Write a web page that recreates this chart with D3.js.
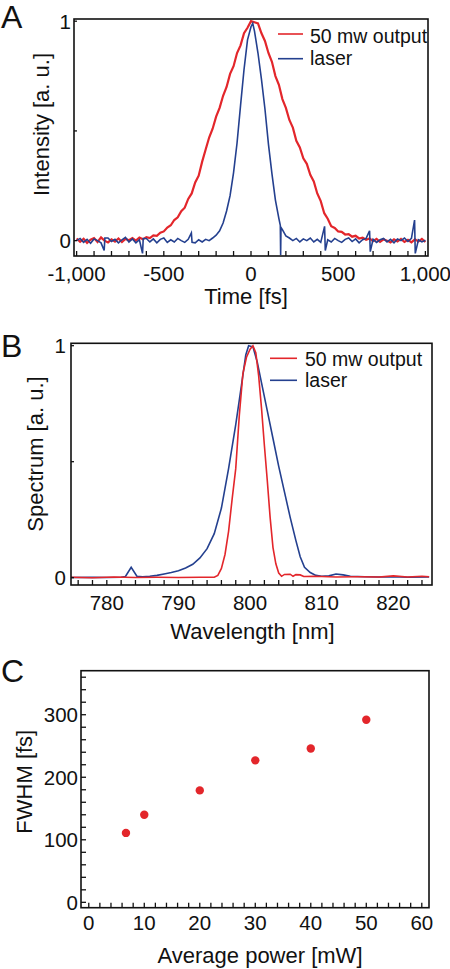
<!DOCTYPE html>
<html><head><meta charset="utf-8">
<script src="https://cdn.jsdelivr.net/npm/d3@7"></script>
<style>
html,body{margin:0;padding:0;background:#fff;}
svg{display:block;font-family:"Liberation Sans",Arial,Helvetica,sans-serif;}
</style></head>
<body>
<script>
// ---------- Panel A: autocorrelation vs time ----------
const timeRed = [[-1000,0.01],[-980,-0.005],[-960,0.008],[-940,-0.01],[-920,0.004],[-900,0.012],[-880,-0.006],[-860,0.015],[-840,0.0],[-820,-0.008],[-800,0.006],[-780,-0.004],[-760,0.01],[-740,-0.006],[-720,0.008],[-700,0.002],[-680,0.012],[-660,0.0],[-640,0.014],[-620,0.006],[-600,0.016],[-580,0.012],[-560,0.024],[-540,0.022],[-520,0.036],[-500,0.042],[-480,0.06],[-460,0.07],[-440,0.094],[-420,0.106],[-400,0.134],[-380,0.15],[-360,0.19],[-340,0.215],[-320,0.265],[-300,0.296],[-280,0.36],[-260,0.415],[-240,0.47],[-220,0.51],[-200,0.565],[-180,0.605],[-160,0.66],[-140,0.70],[-120,0.76],[-100,0.795],[-80,0.855],[-60,0.89],[-40,0.945],[-20,0.97],[0,1.0],[20,0.995],[40,0.99],[60,0.945],[80,0.91],[100,0.855],[120,0.815],[140,0.75],[160,0.71],[180,0.645],[200,0.605],[220,0.55],[240,0.515],[260,0.455],[280,0.425],[300,0.375],[320,0.35],[340,0.30],[360,0.27],[380,0.215],[400,0.18],[420,0.125],[440,0.1],[460,0.066],[480,0.058],[500,0.042],[520,0.04],[540,0.028],[560,0.03],[580,0.018],[600,0.022],[620,0.01],[640,0.014],[660,0.004],[680,0.01],[700,-0.002],[720,0.008],[740,-0.006],[760,0.006],[780,0.0],[800,-0.008],[820,0.006],[840,-0.004],[860,0.008],[880,-0.006],[900,0.004],[920,-0.008],[940,0.006],[960,-0.004],[980,0.008],[1000,-0.006]];
const timeBlue = [[-1000,0.0],[-980,0.01],[-960,-0.008],[-940,0.006],[-920,-0.012],[-900,0.008],[-880,0.0],[-860,-0.01],[-842,-0.045],[-838,0.012],[-820,0.012],[-800,-0.004],[-780,0.006],[-760,-0.01],[-740,0.004],[-720,0.015],[-700,-0.006],[-680,0.008],[-660,-0.01],[-640,0.004],[-622,-0.058],[-618,0.01],[-600,0.01],[-580,-0.006],[-560,0.008],[-540,-0.01],[-520,0.006],[-500,0.012],[-480,-0.008],[-460,0.004],[-440,-0.006],[-420,0.01],[-400,0.0],[-380,-0.008],[-360,0.006],[-342,0.035],[-338,-0.008],[-320,-0.01],[-300,0.004],[-280,-0.006],[-260,0.006],[-240,0.0],[-220,0.012],[-200,0.025],[-180,0.045],[-160,0.08],[-140,0.135],[-120,0.205],[-100,0.31],[-80,0.445],[-60,0.615],[-40,0.78],[-20,0.915],[0,0.975],[10,0.99],[20,0.955],[40,0.855],[60,0.735],[80,0.6],[100,0.44],[120,0.305],[140,0.185],[160,0.1],[168,0.07],[170,-0.065],[172,0.06],[180,0.05],[200,0.022],[220,0.012],[240,0.0],[260,0.01],[280,-0.006],[300,0.008],[320,0.0],[340,0.012],[360,-0.006],[380,0.006],[400,-0.008],[422,0.065],[426,-0.045],[440,0.004],[460,-0.006],[480,0.01],[500,0.0],[520,-0.008],[540,0.006],[560,0.012],[580,-0.004],[600,0.008],[620,-0.01],[640,0.004],[660,0.01],[680,0.045],[684,-0.05],[700,0.006],[720,-0.008],[740,0.004],[760,0.01],[780,-0.006],[800,0.006],[820,-0.01],[840,0.008],[860,0.0],[880,0.012],[900,-0.004],[920,0.01],[938,0.094],[942,-0.058],[960,0.004],[980,-0.006],[1000,0.002]];
const timeTickLabels = [-1000,-500,0,500,1000];

// ---------- Panel B: spectra ----------
const specRed = [[775,0.002],[778,0.0],[781,0.003],[784,0.001],[787,0.002],[790,0.001],[793,0.002],[795,0.002],[795.5,0.01],[796,0.04],[796.5,0.1],[797,0.2],[797.5,0.34],[798,0.47],[798.5,0.7],[799,0.88],[799.5,0.95],[800,0.985],[800.4,1.0],[800.8,0.97],[801.2,0.87],[801.6,0.73],[802,0.57],[802.4,0.42],[802.8,0.26],[803.2,0.13],[803.6,0.06],[804,0.02],[804.4,0.006],[804.8,0.014],[805.6,0.015],[806,0.006],[806.4,0.013],[807,0.012],[807.5,0.005],[809,0.006],[812,0.003],[815,0.004],[818,0.003],[820,0.008],[822,0.003],[824,0.006],[825,0.004]];
const specBlue = [[775,0.001],[778,0.002],[780,0.001],[782,0.002],[782.6,0.005],[783.4,0.045],[784.2,0.006],[785,0.004],[786,0.006],[787,0.01],[788,0.016],[789,0.022],[790,0.03],[791,0.042],[792,0.058],[793,0.085],[794,0.125],[795,0.19],[796,0.3],[797,0.47],[798,0.66],[798.8,0.83],[799.4,0.96],[799.8,1.0],[800.4,0.995],[801,0.93],[801.6,0.84],[802.4,0.72],[803.2,0.6],[804,0.48],[804.8,0.37],[805.6,0.26],[806.4,0.16],[807,0.09],[807.6,0.045],[808.4,0.022],[809.2,0.01],[810,0.006],[811,0.008],[812,0.016],[813,0.012],[814,0.006],[816,0.004],[818,0.003],[820,0.004],[822,0.002],[825,0.003]];
const wlTickLabels = [780,790,800,810,820];

// ---------- Panel C: FWHM vs power ----------
const power = [6.7, 10, 20, 30, 40, 50];
const fwhm  = [111, 140, 179, 227, 246, 292];
const powerTickLabels = [0,10,20,30,40,50,60];
const fwhmTickLabels = [0,100,200,300];

const legendNames = ["50 mw output", "laser"];
const RED = "#e3262b", BLUE = "#24408f";

const W = 450, H = 969;
const svg = d3.select("body").append("svg").attr("width", W).attr("height", H);
const hy = f => d => f(d).replace("\u2212", "-");

function frame(g, x, y) {
  const [x0, x1] = x.range(), [y0, y1] = y.range();
  g.append("rect").attr("x", x0).attr("y", y1).attr("width", x1 - x0).attr("height", y0 - y1)
    .attr("fill", "none").attr("stroke", "#111").attr("stroke-width", 1.6);
}
function xTicks(g, x, y, ticks, labels, fmt, labelY, len) {
  const yb = y.range()[0];
  g.selectAll(null).data(ticks).enter().append("line")
    .attr("x1", d => x(d)).attr("x2", d => x(d)).attr("y1", yb).attr("y2", yb - len)
    .attr("stroke", "#111").attr("stroke-width", 1.3);
  g.selectAll(null).data(labels).enter().append("text")
    .attr("x", d => x(d)).attr("y", labelY).attr("text-anchor", "middle")
    .attr("font-size", 20.5).attr("fill", "#111").text(fmt);
}
function yTicks(g, x, y, ticks, labels, fmt, labelX, len) {
  const xl = x.range()[0];
  g.selectAll(null).data(ticks).enter().append("line")
    .attr("x1", xl).attr("x2", xl + len).attr("y1", d => y(d)).attr("y2", d => y(d))
    .attr("stroke", "#111").attr("stroke-width", 1.3);
  g.selectAll(null).data(labels).enter().append("text")
    .attr("x", labelX).attr("y", d => y(d)).attr("dy", "0.36em").attr("text-anchor", "end")
    .attr("font-size", 20.5).attr("fill", "#111").text(fmt);
}
function title(g, txt, x, y, rot) {
  const t = g.append("text").attr("font-size", 22).attr("fill", "#111").attr("text-anchor", "middle").text(txt);
  if (rot) t.attr("transform", `translate(${x},${y}) rotate(-90)`);
  else t.attr("x", x).attr("y", y);
}
function letter(txt, y) {
  svg.append("text").attr("x", 1).attr("y", y).attr("font-size", 32).attr("fill", "#111").text(txt);
}
function legend(g, x0, x1, tx, rows) {
  rows.forEach((r, i) => {
    g.append("line").attr("x1", x0).attr("x2", x1).attr("y1", r.ly).attr("y2", r.ly)
      .attr("stroke", r.c).attr("stroke-width", 1.6);
    g.append("text").attr("x", tx).attr("y", r.ty).attr("font-size", 19.5).attr("fill", "#111").text(legendNames[i]);
  });
}

// Panel A
{
  const g = svg.append("g");
  const x = d3.scaleLinear().domain([-1015, 1015]).range([74, 428]);
  const y = d3.scaleLinear().domain([-0.07, 1.01]).range([256, 19]);
  const line = d3.line().x(d => x(d[0])).y(d => y(d[1]));
  g.append("path").datum(timeRed).attr("d", line).attr("fill", "none").attr("stroke", RED).attr("stroke-width", 2.2);
  g.append("path").datum(timeBlue).attr("d", line).attr("fill", "none").attr("stroke", BLUE).attr("stroke-width", 1.6);
  frame(g, x, y);
  xTicks(g, x, y, d3.range(-1000, 1001, 100), timeTickLabels, hy(d3.format(",")), 281, 5);
  yTicks(g, x, y, [0, 0.5, 1], [0, 1], d3.format("d"), 71, 3);
  title(g, "Time [fs]", 246, 304, false);
  title(g, "Intensity [a. u.]", 49, 124.5, true);
  legend(g, 278, 303, 310, [{c: RED, ly: 34, ty: 43}, {c: BLUE, ly: 58.7, ty: 65}]);
  letter("A", 28);
}
// Panel B
{
  const g = svg.append("g");
  const x = d3.scaleLinear().domain([775, 825.4]).range([71, 432]);
  const y = d3.scaleLinear().domain([-0.0315, 1.0103]).range([585, 343.3]);
  const line = d3.line().x(d => x(d[0])).y(d => y(d[1]));
  g.append("path").datum(specBlue).attr("d", line).attr("fill", "none").attr("stroke", BLUE).attr("stroke-width", 1.6);
  g.append("path").datum(specRed).attr("d", line).attr("fill", "none").attr("stroke", RED).attr("stroke-width", 1.6);
  frame(g, x, y);
  xTicks(g, x, y, d3.range(776, 825, 2), wlTickLabels, d3.format("d"), 610, 5);
  yTicks(g, x, y, [0, 0.5, 1], [0, 1], d3.format("d"), 66, 3);
  title(g, "Wavelength [nm]", 252.5, 639, false);
  title(g, "Spectrum [a. u.]", 43, 454, true);
  legend(g, 270, 297, 305, [{c: RED, ly: 358.3, ty: 365.5}, {c: BLUE, ly: 380.3, ty: 386.7}]);
  letter("B", 357);
}
// Panel C
{
  const g = svg.append("g");
  const x = d3.scaleLinear().domain([-1.4, 61.3]).range([81, 429]);
  const y = d3.scaleLinear().domain([-8.6, 370.4]).range([907.7, 670.7]);
  frame(g, x, y);
  xTicks(g, x, y, d3.range(0, 61, 2), powerTickLabels, d3.format("d"), 930, 5);
  yTicks(g, x, y, d3.range(0, 361, 20), fwhmTickLabels, d3.format("d"), 78, 5);
  g.selectAll(null).data(power).enter().append("circle")
    .attr("cx", d => x(d)).attr("cy", (d, i) => y(fwhm[i])).attr("r", 4.2).attr("fill", RED);
  title(g, "Average power [mW]", 260, 963, false);
  title(g, "FWHM [fs]", 32, 781.7, true);
  letter("C", 682);
}
</script>
</body></html>
